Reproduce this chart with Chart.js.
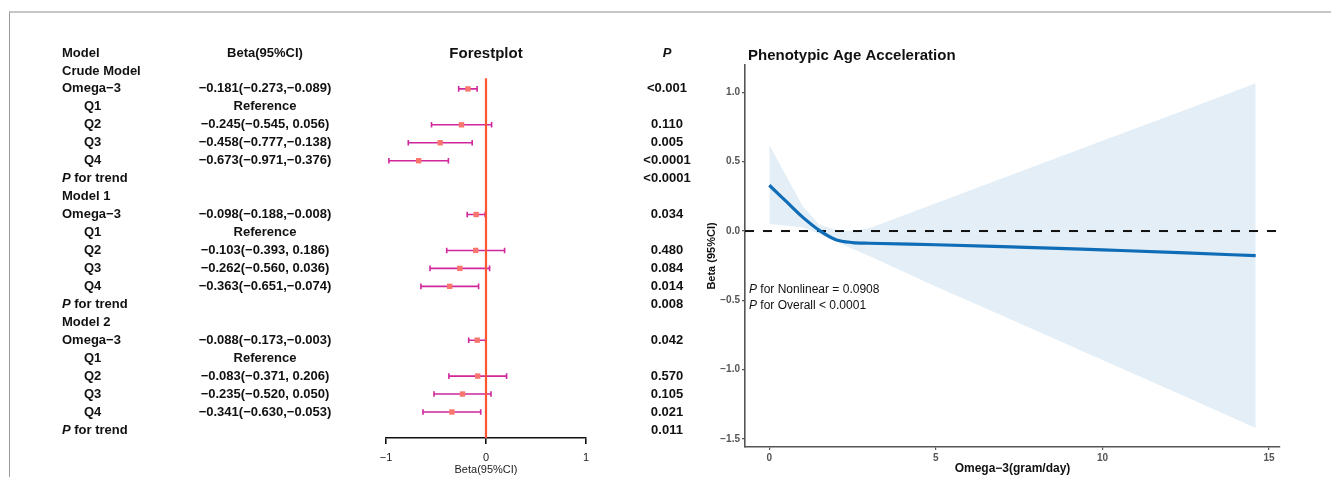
<!DOCTYPE html>
<html>
<head>
<meta charset="utf-8">
<script src="https://cdn.jsdelivr.net/npm/chart.js@4/dist/chart.umd.min.js"></script>
<style>
  html, body { margin: 0; padding: 0; background: #fff; }
  #wrap { position: relative; width: 1331px; height: 477px; overflow: hidden; background: #fff; }
  #frame { position: absolute; left: 9px; top: 11px; width: 1322px; height: 466px;
           border-top: 2px solid #c6c6c6; border-left: 1px solid #9a9a9a; box-sizing: border-box; }
  #left { position: absolute; left: 0; top: 0; }
  #right { position: absolute; left: 700px; top: 0; }
</style>
</head>
<body>
<div id="wrap">
  <div id="frame"></div>
  <canvas id="left" width="700" height="477"></canvas>
  <canvas id="right" width="631" height="477"></canvas>
</div>
<script>
// ---------------- Forest plot data ----------------
const rowLabels = ["Model","Crude Model","Omega−3","Q1","Q2","Q3","Q4","P for trend",
  "Model 1","Omega−3","Q1","Q2","Q3","Q4","P for trend",
  "Model 2","Omega−3","Q1","Q2","Q3","Q4","P for trend"];
const betaCI = ["Beta(95%CI)","","−0.181(−0.273,−0.089)","Reference","−0.245(−0.545, 0.056)","−0.458(−0.777,−0.138)","−0.673(−0.971,−0.376)","",
  "","−0.098(−0.188,−0.008)","Reference","−0.103(−0.393, 0.186)","−0.262(−0.560, 0.036)","−0.363(−0.651,−0.074)","",
  "","−0.088(−0.173,−0.003)","Reference","−0.083(−0.371, 0.206)","−0.235(−0.520, 0.050)","−0.341(−0.630,−0.053)",""];
const pValues = ["P","","<0.001","","0.110","0.005","<0.0001","<0.0001",
  "","0.034","","0.480","0.084","0.014","0.008",
  "","0.042","","0.570","0.105","0.021","0.011"];
const estimate = [null,null,-0.181,null,-0.245,-0.458,-0.673,null,
  null,-0.098,null,-0.103,-0.262,-0.363,null,
  null,-0.088,null,-0.083,-0.235,-0.341,null];
const lowerCI = [null,null,-0.273,null,-0.545,-0.777,-0.971,null,
  null,-0.188,null,-0.393,-0.560,-0.651,null,
  null,-0.173,null,-0.371,-0.520,-0.630,null];
const upperCI = [null,null,-0.089,null,0.056,-0.138,-0.376,null,
  null,-0.008,null,0.186,0.036,-0.074,null,
  null,-0.003,null,0.206,0.050,-0.053,null];
const forestTicks = [-1, 0, 1];
const refValue = 0;

// ---------------- Spline plot data ----------------
const omegaX   = [0, 0.5, 1.0, 1.5, 2.0, 2.5, 3.0, 5.0, 7.0, 10.0, 12.5, 14.6];
const fitBeta  = [0.33, 0.215, 0.10, 0.005, -0.062, -0.083, -0.088, -0.099, -0.112, -0.136, -0.157, -0.178];
const ciUpper  = [0.62, 0.40, 0.18, 0.045, 0.008, 0.0, 0.02, 0.20, 0.38, 0.65, 0.875, 1.065];
const ciLower  = [0.05, 0.04, 0.025, -0.02, -0.075, -0.13, -0.18, -0.40, -0.61, -0.93, -1.195, -1.42];
const splineXTicks = [0, 5, 10, 15];
const splineYTicks = [-1.5, -1.0, -0.5, 0.0, 0.5, 1.0];
const pNonlinear = "0.0908";
const pOverall = "< 0.0001";

const FONT = '"Liberation Sans", Arial, Helvetica, sans-serif';
const minus = s => String(s).replace(/-/g, '−');

// ---------------- Left: forest plot ----------------
const forestPoints = [];
estimate.forEach((v, i) => { if (v !== null) forestPoints.push({x: v, y: i}); });

const errorBarPlugin = {
  id: 'errorBars',
  beforeDatasetsDraw(chart) {
    const ctx = chart.ctx, xs = chart.scales.x, ys = chart.scales.y;
    ctx.save();
    ctx.strokeStyle = '#d0279a';
    ctx.lineWidth = 1.6;
    estimate.forEach((v, i) => {
      if (v === null) return;
      const py = ys.getPixelForValue(i);
      const x1 = xs.getPixelForValue(lowerCI[i]), x2 = xs.getPixelForValue(upperCI[i]);
      ctx.beginPath();
      ctx.moveTo(x1, py); ctx.lineTo(x2, py);
      ctx.moveTo(x1, py - 2.8); ctx.lineTo(x1, py + 2.8);
      ctx.moveTo(x2, py - 2.8); ctx.lineTo(x2, py + 2.8);
      ctx.stroke();
    });
    ctx.restore();
  }
};

const tablePlugin = {
  id: 'tableText',
  afterDraw(chart) {
    const ctx = chart.ctx, xs = chart.scales.x, ys = chart.scales.y;
    ctx.save();
    ctx.fillStyle = '#111';
    ctx.textBaseline = 'middle';
    rowLabels.forEach((lab, i) => {
      const py = ys.getPixelForValue(i);
      const px = lab.startsWith('Q') ? 84 : 62;
      ctx.textAlign = 'left';
      if (lab.startsWith('P ')) {
        ctx.font = 'italic bold 13px ' + FONT;
        ctx.fillText('P', px, py);
        const w = ctx.measureText('P').width;
        ctx.font = 'bold 13px ' + FONT;
        ctx.fillText(lab.slice(1), px + w, py);
      } else {
        ctx.font = 'bold 13px ' + FONT;
        ctx.fillText(lab, px, py);
      }
      ctx.textAlign = 'center';
      ctx.font = 'bold 13px ' + FONT;
      ctx.fillText(betaCI[i], 265, py);
      ctx.font = (i === 0 ? 'italic bold 13px ' : 'bold 13px ') + FONT;
      ctx.fillText(pValues[i], 667, py);
    });
    ctx.textAlign = 'center';
    ctx.font = 'bold 15px ' + FONT;
    ctx.fillText('Forestplot', xs.getPixelForValue(refValue), ys.getPixelForValue(0) + 1);
    ctx.restore();
  }
};

new Chart(document.getElementById('left'), {
  type: 'scatter',
  data: {
    datasets: [
      {
        type: 'line',
        data: [{x: refValue, y: 1.4}, {x: refValue, y: 21.45}],
        borderColor: '#ff5533', borderWidth: 2.2, pointRadius: 0, order: 2
      },
      {
        data: forestPoints,
        pointStyle: 'rect', pointRadius: 3.8,
        backgroundColor: '#f8766d', borderColor: '#f8766d', borderWidth: 0, order: 1
      }
    ]
  },
  options: {
    responsive: false, animation: false,
    layout: { padding: { left: 386, right: 114, top: 35.05, bottom: 0 } },
    plugins: { legend: { display: false }, tooltip: { enabled: false } },
    scales: {
      x: {
        type: 'linear', min: -1, max: 1,
        afterBuildTicks: s => { s.ticks = forestTicks.map(v => ({value: v})); },
        afterFit: s => { s.height = 39; },
        border: { display: true, color: '#111', width: 1.6 },
        grid: { drawOnChartArea: false, drawTicks: true, tickLength: 6, color: '#111', lineWidth: 1.6 },
        ticks: { color: '#222', font: { size: 11, family: FONT }, padding: 7, callback: v => minus(v) },
        title: { display: true, text: 'Beta(95%CI)', color: '#222', font: { size: 11, family: FONT }, padding: { top: 0, bottom: 0 } }
      },
      y: {
        type: 'linear', min: -1, max: 21.45, reverse: true, display: false
      }
    }
  },
  plugins: [errorBarPlugin, tablePlugin]
});

// ---------------- Right: restricted cubic spline ----------------
const toXY = (xs, ys) => xs.map((x, i) => ({x: x, y: ys[i]}));

const splineTextPlugin = {
  id: 'splineText',
  afterDraw(chart) {
    const ctx = chart.ctx, a = chart.chartArea, ys = chart.scales.y;
    ctx.save();
    ctx.fillStyle = '#111';
    ctx.textAlign = 'left';
    ctx.textBaseline = 'middle';
    ctx.font = 'bold 15px ' + FONT;
    ctx.fillText('Phenotypic Age Acceleration', a.left + 3, 56);
    const lines = [['P', ' for Nonlinear = ' + pNonlinear, ys.getPixelForValue(-0.42)],
                   ['P', ' for Overall ' + pOverall, ys.getPixelForValue(-0.535)]];
    lines.forEach(([p, rest, py]) => {
      ctx.font = 'italic 12px ' + FONT;
      ctx.fillText(p, a.left + 4, py);
      const w = ctx.measureText(p).width;
      ctx.font = '12px ' + FONT;
      ctx.fillText(rest, a.left + 4 + w, py);
    });
    ctx.restore();
  }
};

const axisGray = '#555';
new Chart(document.getElementById('right'), {
  type: 'line',
  data: {
    datasets: [
      { data: toXY(omegaX, ciUpper), borderWidth: 0, pointRadius: 0, fill: false, order: 4, borderColor: 'rgba(0,0,0,0)' },
      { data: toXY(omegaX, ciLower), borderWidth: 0, pointRadius: 0, fill: '-1', order: 3,
        backgroundColor: '#e3eef6', borderColor: 'rgba(0,0,0,0)' },
      { data: [{x: -0.73, y: 0}, {x: 15.33, y: 0}], borderColor: '#111', borderWidth: 2,
        borderDash: [9, 9], pointRadius: 0, fill: false, order: 2 },
      { data: toXY(omegaX, fitBeta), borderColor: '#0f6cb6', borderWidth: 3.2, pointRadius: 0,
        fill: false, cubicInterpolationMode: 'monotone', order: 1 }
    ]
  },
  options: {
    responsive: false, animation: false,
    layout: { padding: { left: 0, right: 51, top: 65, bottom: 0 } },
    plugins: { legend: { display: false }, tooltip: { enabled: false } },
    scales: {
      x: {
        type: 'linear', min: -0.73, max: 15.33,
        afterBuildTicks: s => { s.ticks = splineXTicks.map(v => ({value: v})); },
        afterFit: s => { s.height = 30; },
        border: { display: true, color: axisGray, width: 1.6 },
        grid: { drawOnChartArea: false, drawTicks: true, tickLength: 3, color: axisGray, lineWidth: 1.2 },
        ticks: { color: '#555', font: { size: 10, weight: 'bold', family: FONT }, padding: 2, callback: v => minus(v) },
        title: { display: true, text: 'Omega−3(gram/day)', color: '#111', font: { size: 12, weight: 'bold', family: FONT }, padding: { top: 0, bottom: 1 } }
      },
      y: {
        type: 'linear', min: -1.557, max: 1.197,
        afterBuildTicks: s => { s.ticks = splineYTicks.map(v => ({value: v})); },
        afterFit: s => { s.width = 45; },
        border: { display: true, color: axisGray, width: 1.6 },
        grid: { drawOnChartArea: false, drawTicks: true, tickLength: 3, color: axisGray, lineWidth: 1.2 },
        ticks: { color: '#555', font: { size: 10, weight: 'bold', family: FONT }, padding: 2, callback: v => minus(Number(v).toFixed(1)) },
        title: { display: true, text: 'Beta (95%CI)', color: '#111', font: { size: 11, weight: 'bold', family: FONT }, padding: { top: 5, bottom: 2 } }
      }
    }
  },
  plugins: [splineTextPlugin]
});
</script>
</body>
</html>
